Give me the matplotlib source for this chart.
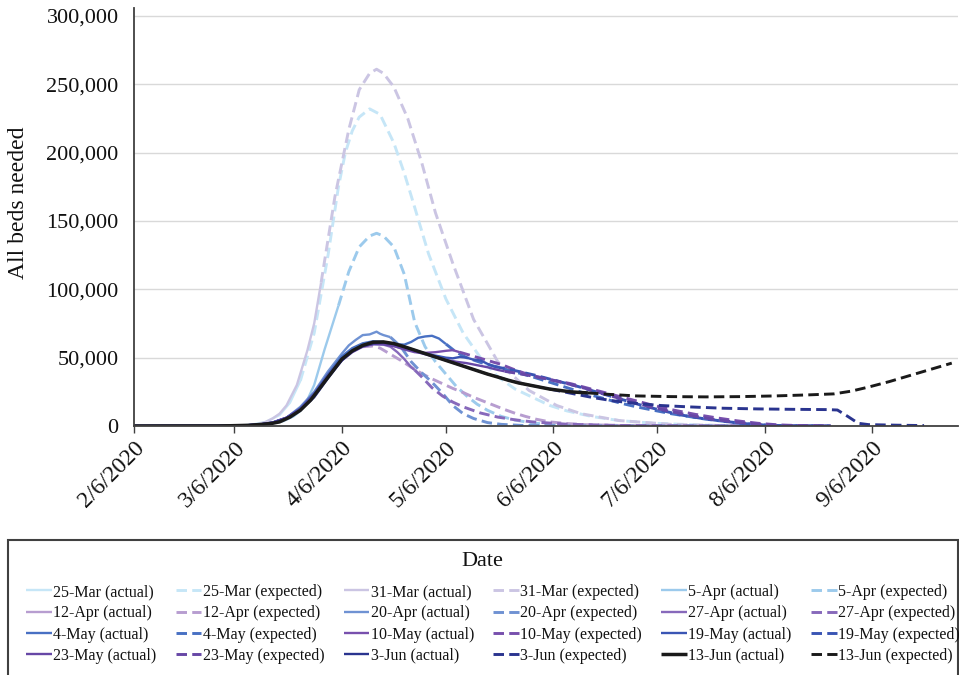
import numpy as np
import matplotlib
matplotlib.use("Agg")
import matplotlib.pyplot as plt
import matplotlib.dates as mdates
from matplotlib.patches import Rectangle
import datetime as dt

plt.rcParams['font.family'] = ['Liberation Serif', 'DejaVu Serif']

# Day offsets are days since 6 Feb 2020; values are beds in thousands.
START_DATE = dt.date(2020, 2, 6)

FORECASTS = ["25-Mar", "31-Mar", "5-Apr", "12-Apr", "20-Apr", "27-Apr",
             "4-May", "10-May", "19-May", "23-May", "3-Jun", "13-Jun"]
COLORS = ["#c6e6f7", "#cbc5e3", "#9ccaec", "#b79dd0", "#6f92d3", "#8769bb",
          "#4870c3", "#7850ad", "#3a55b4", "#6747a6", "#2a348f", "#1a1a1a"]

# 25-Mar
act_25mar_days = [0, 24, 30, 34, 38, 42, 45, 48]
act_25mar_vals = [0, 0.05, 0.3, 1, 3, 8, 17, 33]
exp_25mar_days = [48, 52, 56, 59, 61, 63, 65, 68, 71, 75, 78, 81, 85, 90, 95, 100, 105, 110, 115, 120, 125, 132, 140, 150, 165, 180]
exp_25mar_vals = [33, 68, 125, 175, 200, 216, 226, 232, 228, 207, 185, 160, 126, 93, 68, 50, 36, 27, 21, 15, 11, 7, 4, 2, 0.6, 0.1]
# 31-Mar
act_31mar_days = [0, 24, 30, 34, 36, 38, 40, 42, 44, 47, 50, 52, 54]
act_31mar_vals = [0, 0.05, 0.3, 0.8, 1.5, 3, 5.5, 9, 15, 30, 55, 75, 105]
exp_31mar_days = [54, 58, 62, 65, 68, 70, 72, 75, 79, 83, 87, 92, 98, 105, 114, 122, 129, 140, 155, 170, 180]
exp_31mar_vals = [105, 168, 217, 246, 258, 261, 258, 248, 225, 193, 156, 119, 78, 47, 26, 15, 9, 4, 1.2, 0.3, 0]
# 5-Apr
act_5apr_days = [0, 24, 32, 36, 40, 43, 46, 48, 50, 52, 55, 57, 59]
act_5apr_vals = [0, 0.05, 0.4, 0.9, 2, 3.5, 7, 11, 19, 30, 56, 72, 88]
exp_5apr_days = [59, 62, 65, 68, 70, 72, 75, 78, 81, 84, 87, 90, 93, 96, 99, 102, 106, 110, 115, 120, 130, 145, 180]
exp_5apr_vals = [88, 113, 131, 139, 141, 139, 131, 111, 76, 58, 47, 38, 29, 22, 16, 11.5, 7, 4.3, 2.2, 1.1, 0.4, 0.1, 0]
# 12-Apr
act_12apr_days = [0, 24, 30, 36, 40, 44, 48, 52, 56, 60, 63, 66]
act_12apr_vals = [0, 0.05, 0.2, 0.9, 2.2, 5.5, 12, 22, 36, 49, 55, 58]
exp_12apr_days = [66, 69, 71, 74, 77, 80, 83, 86, 89, 92, 95, 98, 101, 104, 107, 110, 113, 116, 120, 125, 130, 140, 160, 201]
exp_12apr_vals = [58, 58.5, 57, 52.5, 48, 43, 38.5, 34.5, 31, 27.5, 24.5, 21, 18, 15, 12, 9.3, 7, 5, 3, 1.8, 1, 0.4, 0.1, 0]
# 20-Apr
act_20apr_days = [0, 24, 30, 36, 40, 44, 48, 52, 56, 60, 62, 64, 66, 68, 70, 71, 72, 74]
act_20apr_vals = [0, 0.05, 0.2, 1, 2.5, 6, 14, 25, 40, 53, 59, 63, 66.5, 67, 69, 67.5, 66.5, 65]
exp_20apr_days = [74, 77, 80, 83, 86, 89, 92, 95, 98, 102, 106, 112, 125, 150, 201]
exp_20apr_vals = [65, 58, 47, 39, 32, 24, 15, 9, 5.5, 2.5, 1.2, 0.4, 0.1, 0, 0]
# 27-Apr
act_27apr_days = [0, 24, 30, 36, 40, 44, 48, 52, 56, 60, 63, 66, 69, 72, 74, 76, 78, 80, 81]
act_27apr_vals = [0, 0.05, 0.2, 1, 2.5, 6, 13, 24, 38, 50, 56, 59, 60, 59.5, 58, 54, 49, 43, 41]
exp_27apr_days = [81, 83, 86, 89, 92, 95, 100, 105, 110, 115, 125, 140, 160, 201]
exp_27apr_vals = [41, 36, 28, 22, 17.5, 14, 9.5, 6.5, 4.5, 3, 1.3, 0.4, 0.1, 0]
# 4-May
act_4may_days = [0, 24, 30, 36, 40, 44, 48, 52, 56, 60, 63, 66, 69, 72, 75, 78, 80, 82, 84, 86, 88, 90]
act_4may_vals = [0, 0.05, 0.2, 1, 2.5, 6, 13, 24, 38, 51, 57, 60.5, 62, 61.5, 60, 59.5, 61.5, 64.5, 65.5, 66, 64, 60]
exp_4may_days = [90, 93, 96, 100, 105, 110, 115, 120, 125, 130, 135, 140, 145, 150, 155, 160, 165, 170, 175, 180, 185, 201]
exp_4may_vals = [60, 54, 50, 46.5, 43, 39.5, 36, 32, 28, 24, 20.5, 17, 14, 11.5, 9, 7, 5, 3.5, 2, 1, 0.3, 0]
# 10-May
act_10may_days = [0, 24, 30, 36, 40, 44, 48, 52, 56, 60, 63, 66, 69, 72, 75, 78, 81, 84, 87, 90, 92, 94]
act_10may_vals = [0, 0.05, 0.2, 1, 2.5, 6, 12.5, 23, 37, 49, 55, 58.5, 60, 60, 58.5, 56, 54, 53.5, 54, 55, 55.5, 54]
exp_10may_days = [94, 98, 102, 106, 110, 114, 120, 126, 132, 138, 144, 150, 156, 162, 168, 174, 180, 186, 192, 201]
exp_10may_vals = [54, 51, 48, 45, 41, 37.5, 34, 31, 27, 23, 19, 15, 11.5, 8.5, 6, 3.8, 2, 0.8, 0.3, 0]
# 19-May
act_19may_days = [0, 24, 30, 36, 40, 44, 48, 52, 56, 60, 63, 66, 69, 72, 75, 78, 81, 84, 87, 90, 92, 94, 96, 98, 100, 102, 104]
act_19may_vals = [0, 0.05, 0.2, 1, 2.5, 6, 12.5, 23, 37, 49, 55, 58.5, 60, 60, 59, 57, 55, 53, 51.5, 50, 49.5, 50.5, 50, 48.5, 48, 45.5, 43.5]
exp_19may_days = [104, 110, 116, 122, 128, 134, 140, 146, 152, 158, 164, 170, 176, 182, 188, 201]
exp_19may_vals = [43.5, 40.5, 37, 33, 29, 24.5, 20, 15.5, 11.5, 8, 5.5, 3.5, 1.8, 0.7, 0.2, 0]
# 23-May
act_23may_days = [0, 24, 30, 36, 40, 44, 48, 52, 56, 60, 63, 66, 69, 72, 75, 78, 81, 84, 87, 90, 93, 96, 99, 102, 105, 107]
act_23may_vals = [0, 0.05, 0.2, 1, 2.4, 6, 12, 22.5, 36, 48, 54, 58, 60, 60, 58.5, 56.5, 54.5, 52.5, 50.5, 48.5, 47, 46, 44.5, 43, 41, 40]
exp_23may_days = [107, 113, 119, 125, 131, 137, 143, 149, 155, 161, 167, 173, 179, 185, 201]
exp_23may_vals = [40, 37.5, 34.5, 31, 27, 22.5, 18, 14, 10.5, 7.5, 5, 3, 1.5, 0.5, 0]
# 3-Jun
act_3jun_days = [0, 24, 30, 36, 40, 44, 48, 52, 56, 60, 63, 66, 69, 72, 75, 78, 81, 84, 87, 90, 93, 96, 99, 102, 105, 108, 111, 114, 117, 120]
act_3jun_vals = [0, 0.05, 0.2, 1, 2.2, 5.5, 11.5, 21, 35, 48, 54.5, 58.5, 60.5, 61, 60, 58, 55.5, 53, 50.5, 48, 45.5, 43, 40.5, 38, 36, 33.5, 31.5, 30, 28.5, 27]
exp_3jun_days = [120, 126, 132, 138, 145, 152, 160, 170, 180, 190, 200, 203, 206, 209, 212, 220, 228]
exp_3jun_vals = [27, 24, 21, 18.5, 16.5, 15, 14, 13, 12.5, 12.2, 12, 11.7, 7, 2, 1, 0.6, 0.3]
# 13-Jun
act_13jun_days = [0, 24, 28, 33, 37, 40, 42, 45, 48, 51, 54, 57, 60, 63, 66, 69, 72, 75, 78, 81, 84, 87, 90, 93, 96, 99, 102, 105, 108, 111, 114, 117, 120, 123, 126, 129, 131]
act_13jun_vals = [0, 0.05, 0.2, 0.5, 1.2, 2, 3, 6.5, 11.5, 19, 29, 39, 49, 55, 59, 61.3, 61.5, 60.3, 58, 55.5, 53, 50.5, 48, 45.5, 43, 40.5, 38, 35.8, 33.5, 31.5, 30, 28.5, 27, 26, 25, 24.5, 24.2]
exp_13jun_days = [131, 138, 145, 155, 165, 175, 185, 195, 202, 207, 212, 218, 224, 230, 236]
exp_13jun_vals = [24.2, 23, 22, 21.5, 21.3, 21.5, 22, 22.8, 23.5, 25.5, 28.5, 32.5, 37, 41.5, 46]

SERIES = [
    (act_25mar_days, act_25mar_vals, exp_25mar_days, exp_25mar_vals),
    (act_31mar_days, act_31mar_vals, exp_31mar_days, exp_31mar_vals),
    (act_5apr_days, act_5apr_vals, exp_5apr_days, exp_5apr_vals),
    (act_12apr_days, act_12apr_vals, exp_12apr_days, exp_12apr_vals),
    (act_20apr_days, act_20apr_vals, exp_20apr_days, exp_20apr_vals),
    (act_27apr_days, act_27apr_vals, exp_27apr_days, exp_27apr_vals),
    (act_4may_days, act_4may_vals, exp_4may_days, exp_4may_vals),
    (act_10may_days, act_10may_vals, exp_10may_days, exp_10may_vals),
    (act_19may_days, act_19may_vals, exp_19may_days, exp_19may_vals),
    (act_23may_days, act_23may_vals, exp_23may_days, exp_23may_vals),
    (act_3jun_days, act_3jun_vals, exp_3jun_days, exp_3jun_vals),
    (act_13jun_days, act_13jun_vals, exp_13jun_days, exp_13jun_vals),
]

Y_TICKS = [0, 50000, 100000, 150000, 200000, 250000, 300000]

W, H = 959, 675
fig = plt.figure(figsize=(W / 100, H / 100), dpi=100)
ax = fig.add_axes([134 / W, 1 - 426 / H, (958 - 134) / W, (426 - 8) / H])

base = mdates.date2num(START_DATE)

def to_x(days):
    return base + np.asarray(days, dtype=float)

DASH = (3.6, 1.8)
handles = []
labels = []
for name, col, (ad, av, ed, ev) in zip(FORECASTS, COLORS, SERIES):
    is_last = name == "13-Jun"
    lw_a = 2.5 if is_last else 1.7
    lw_e = 2.1
    la, = ax.plot(to_x(ad), np.asarray(av) * 1000, color=col, lw=lw_a,
                  solid_capstyle='butt', solid_joinstyle='round')
    le, = ax.plot(to_x(ed), np.asarray(ev) * 1000, color=col, lw=lw_e,
                  dashes=DASH, dash_capstyle='butt')
    handles += [la, le]
    labels += [f"{name} (actual)", f"{name} (expected)"]

ax.set_xlim(base, base + 237.8)
ax.set_ylim(0, 305800)
ax.xaxis_date()
ax.xaxis.set_major_locator(mdates.MonthLocator(bymonthday=6))
ax.xaxis.set_major_formatter(matplotlib.ticker.FuncFormatter(
    lambda v, p: (lambda d: f"{d.month}/{d.day}/{d.year}")(mdates.num2date(v))))
ax.set_yticks(Y_TICKS)
ax.yaxis.set_major_formatter(matplotlib.ticker.FuncFormatter(lambda v, p: f"{v:,.0f}"))

for s in ['top', 'right']:
    ax.spines[s].set_visible(False)
for s in ['left', 'bottom']:
    ax.spines[s].set_color('#404040')
    ax.spines[s].set_linewidth(1.3)
ax.grid(axis='y', color='#d9d9d9', lw=1.0)
ax.set_axisbelow(True)

ax.tick_params(axis='y', length=0, pad=11, labelsize=16, labelcolor='#111111')
ax.tick_params(axis='x', length=5, width=1, color='#404040', direction='out',
               pad=3, labelsize=17, labelcolor='#111111')
for lab in ax.get_xticklabels():
    lab.set_rotation(45)
    lab.set_ha('right')
    lab.set_va('top')
    lab.set_rotation_mode('anchor')

ax.set_ylabel("All beds needed", fontsize=17, color='#111111')
ax.yaxis.set_label_coords(-0.128, 0.535)

# Legend box and title
fig.add_artist(Rectangle((8 / W, -0.05), (958 - 8) / W, 0.05 + (H - 540) / H,
                         transform=fig.transFigure, fill=False,
                         edgecolor='#404040', lw=1.5))
fig.text(482 / W, 1 - 561 / H, "Date", ha='center', va='center', fontsize=16, color='#111111')

nrow, ncol = 4, 6
order = [r * ncol + c for c in range(ncol) for r in range(nrow)]
leg = fig.legend([handles[i] for i in order], [labels[i] for i in order],
                 ncol=ncol, loc='upper left', bbox_to_anchor=(26 / W, 1 - 584 / H),
                 frameon=False, fontsize=11.5, handlelength=1.6, handletextpad=0.1,
                 columnspacing=1.2, labelspacing=0.33, borderpad=0, borderaxespad=0)
for t in leg.get_texts():
    t.set_color('#111111')

fig.savefig("out.png", dpi=100)
